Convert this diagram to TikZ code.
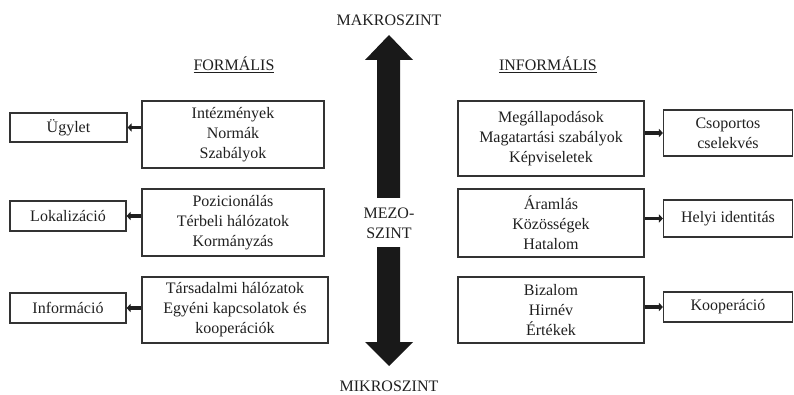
\documentclass[tikz,border=0pt]{standalone}
\usepackage{fontspec}
\setmainfont{Liberation Serif}
\usetikzlibrary{arrows.meta}
\begin{document}
\begin{tikzpicture}[x=1pt,y=-1pt,
  txt/.style={font=\fontsize{16}{20}\selectfont, text=black!88, inner sep=0pt},
  box/.style={txt, draw=black!80, line width=1.1pt, align=center},
  conn/.style={line width=3.6pt, draw=black!88, -{Triangle[length=4pt,width=8pt]}},
  bigarrow/.style={fill=black!90}]
\useasboundingbox (0,0) rectangle (794,395);

% vertical arrow
\fill[bigarrow] (377,198) -- (377,60) -- (365,60) -- (389,35) -- (413,60) -- (400,60) -- (400,198) -- cycle;
\fill[bigarrow] (377,247) -- (377,342) -- (365,342) -- (389,366) -- (413,342) -- (400,342) -- (400,247) -- cycle;

\node[txt] (makro) at (389,20) {MAKROSZINT};
\node[txt, align=center] (mezo) at (389,223) {MEZO-\\SZINT};
\node[txt] (mikro) at (389,386) {MIKROSZINT};

\node[txt] (formalis) at (234,65) {\underline{FORMÁLIS}};
\node[txt] (informalis) at (548,65) {\underline{INFORMÁLIS}};

% left big boxes
\node[box, minimum width=182pt, minimum height=67pt] (L1) at (233,134.5) {Intézmények\\Normák\\Szabályok};
\node[box, minimum width=182pt, minimum height=67pt] (L2) at (233,222.5) {Pozicionálás\\Térbeli hálózatok\\Kormányzás};
\node[box, minimum width=186pt, minimum height=66pt] (L3) at (235,310) {Társadalmi hálózatok\\Egyéni kapcsolatok és\\kooperációk};

% left small boxes
\node[box, minimum width=117pt, minimum height=29pt] (S1) at (68.5,127.5) {Ügylet};
\node[box, minimum width=116pt, minimum height=30pt] (S2) at (68,216) {Lokalizáció};
\node[box, minimum width=116pt, minimum height=30pt] (S3) at (68,308) {Információ};

% right big boxes
\node[box, minimum width=186pt, minimum height=75pt] (R1) at (551,138.5) {Megállapodások\\Magatartási szabályok\\Képviseletek};
\node[box, minimum width=186pt, minimum height=68pt] (R2) at (551,223) {Áramlás\\Közösségek\\Hatalom};
\node[box, minimum width=186pt, minimum height=66pt] (R3) at (551,310) {Bizalom\\Hirnév\\Értékek};

% right small boxes
\node[box, minimum width=129pt, minimum height=46pt] (T1) at (728,133) {Csoportos\\cselekvés};
\node[box, minimum width=129pt, minimum height=37pt] (T2) at (728,218.5) {Helyi identitás};
\node[box, minimum width=129pt, minimum height=30pt] (T3) at (728,307) {Kooperáció};

% connectors
\draw[conn] (L1.west |- S1.east) -- (S1.east);
\draw[conn] (L2.west |- S2.east) -- (S2.east);
\draw[conn] (L3.west |- S3.east) -- (S3.east);
\draw[conn] (R1.east |- T1.west) -- (T1.west);
\draw[conn] (R2.east |- T2.west) -- (T2.west);
\draw[conn] (R3.east |- T3.west) -- (T3.west);
\end{tikzpicture}
\end{document}
